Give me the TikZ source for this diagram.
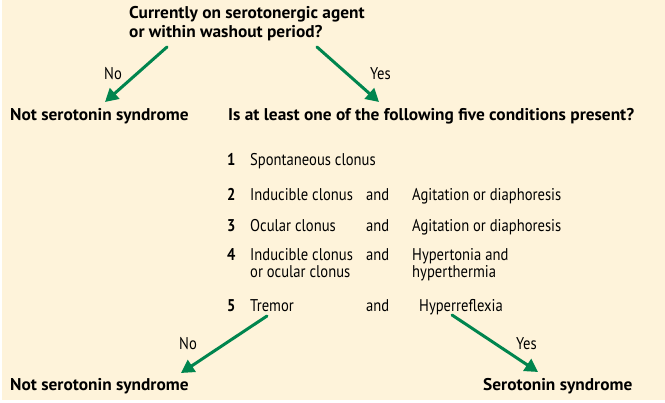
\documentclass[tikz,border=0pt]{standalone}
\usepackage{fontspec}
\setmainfont{PT Sans}[FakeStretch=0.86]
\newfontfamily\headfont{PT Sans}[FakeStretch=1.02]
\usetikzlibrary{arrows.meta}

\definecolor{cream}{RGB}{254,243,218}
\definecolor{arrowgreen}{RGB}{0,133,78}

\tikzset{
  head/.style={font=\headfont\bfseries\fontsize{17}{19}\selectfont, anchor=base west, inner sep=0pt},
  item/.style={font=\fontsize{17}{18}\selectfont, anchor=base west, inner sep=0pt},
  num/.style={item, font=\bfseries\fontsize{17}{18}\selectfont},
  arr/.style={-{Triangle[length=13pt,width=14pt]}, arrowgreen, line width=3pt}
}

\begin{document}
\begin{tikzpicture}[line cap=round,line join=round,x=1pt,y=-1pt]

\def\cn{227} %number column
\def\cl{250} %left condition column
\def\ca{366} %and column
\def\cr{412} %right condition column

\useasboundingbox (0,0) rectangle (665,403);
\fill[cream] (2,0) rectangle (665,400);

%question 1
\node[head] (q1) at (129,19) {Currently on serotonergic agent};
\node[head] (q1b) at (129,38) {or within washout period?};
\node[head] (nss1) at (10,121) {Not serotonin syndrome};
\node[head] (q2) at (228,121) {Is at least one of the following five conditions present?};

\coordinate (q1no) at (167,47);
\coordinate (q1yes) at (317,47);
\coordinate (nss1top) at (105,102);
\coordinate (q2top) at (379,102);
\draw[arr] (q1no) -- (nss1top);
\draw[arr] (q1yes) -- (q2top);
\node[item] (no1) at (104,80) {No};
\node[item] (yes1) at (370,80) {Yes};

%conditions
\node[num] (n1) at (\cn,166) {1};
\node[item] (l1) at (\cl,166) {Spontaneous clonus};

\node[num] (n2) at (\cn,201) {2};
\node[item] (l2) at (\cl,201) {Inducible clonus};
\node[item] (a2) at (\ca,201) {and};
\node[item] (r2) at (\cr,201) {Agitation or diaphoresis};

\node[num] (n3) at (\cn,232) {3};
\node[item] (l3) at (\cl,232) {Ocular clonus};
\node[item] (a3) at (\ca,232) {and};
\node[item] (r3) at (\cr,232) {Agitation or diaphoresis};

\node[num] (n4) at (\cn,261) {4};
\node[item] (l4) at (\cl,261) {Inducible clonus};
\node[item] (l4b) at (\cl,278) {or ocular clonus};
\node[item] (a4) at (\ca,261) {and};
\node[item] (r4) at (\cr,261) {Hypertonia and};
\node[item] (r4b) at (\cr,278) {hyperthermia};

\node[num] (n5) at (\cn,312) {5};
\node[item] (l5) at (\cl,312) {Tremor};
\node[item] (a5) at (\ca,312) {and};
\node[item] (r5) at (419,312) {Hyperreflexia};

%outcomes
\node[head] (nss2) at (10,391) {Not serotonin syndrome};
\node[head] (ss) at (483,391) {Serotonin syndrome};

\coordinate (q2no) at (267,316);
\coordinate (q2yes) at (452,315);
\coordinate (nss2top) at (181,373);
\coordinate (sstop) at (538,372);
\draw[arr] (q2no) -- (nss2top);
\draw[arr] (q2yes) -- (sstop);
\node[item] (no2) at (179,350) {No};
\node[item] (yes2) at (516,350) {Yes};

\end{tikzpicture}
\end{document}
